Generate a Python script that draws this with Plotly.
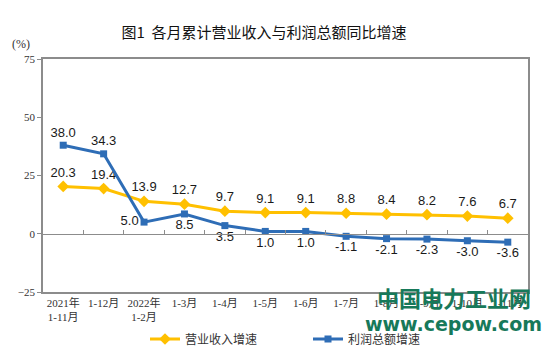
import plotly.graph_objects as go

categories = ["2021年<br>1-11月", "1-12月", "2022年<br>1-2月", "1-3月", "1-4月", "1-5月",
              "1-6月", "1-7月", "1-8月", "1-9月", "1-10月", "1-11月"]
revenue_growth = [20.3, 19.4, 13.9, 12.7, 9.7, 9.1, 9.1, 8.8, 8.4, 8.2, 7.6, 6.7]
profit_growth = [38.0, 34.3, 5.0, 8.5, 3.5, 1.0, 1.0, -1.1, -2.1, -2.3, -3.0, -3.6]
profit_label_pos = ["top center", "top center", "middle left"] + ["bottom center"] * 9

YELLOW = "#FFC000"
BLUE = "#2E6DB6"
AXIS = "#8c8c8c"
LABEL_FONT = dict(family="Arial, Liberation Sans", size=13, color="#1a1a1a")

fig = go.Figure()
fig.add_trace(go.Scatter(
    x=categories, y=revenue_growth, name="营业收入增速",
    mode="lines+markers+text",
    line=dict(color=YELLOW, width=3),
    marker=dict(symbol="diamond", size=9, color=YELLOW),
    text=[f"{v:.1f}" for v in revenue_growth], textposition="top center",
    textfont=LABEL_FONT,
))
fig.add_trace(go.Scatter(
    x=categories, y=profit_growth, name="利润总额增速",
    mode="lines+markers+text",
    line=dict(color=BLUE, width=3),
    marker=dict(symbol="square", size=7, color=BLUE),
    text=[f"{v:.1f}" for v in profit_growth], textposition=profit_label_pos,
    textfont=LABEL_FONT,
))
# invisible trace to carry the zero-line axis with boundary ticks
fig.add_trace(go.Scatter(
    x=categories, y=[0] * len(categories), xaxis="x2", mode="lines",
    line=dict(width=0), opacity=0, showlegend=False, hoverinfo="skip",
))

fig.update_layout(
    width=554, height=353,
    margin=dict(l=43, r=26, t=59, b=61),
    paper_bgcolor="white", plot_bgcolor="white",
    title=dict(text="图1  各月累计营业收入与利润总额同比增速",
               x=264 / 554, xanchor="center", xref="container",
               y=1 - 33 / 353, yanchor="middle", yref="container",
               font=dict(family="Noto Sans CJK SC", size=15, color="#111")),
    xaxis=dict(type="category", range=[-0.5, 11.5],
               showline=True, mirror=True, linecolor=AXIS, linewidth=1.5,
               ticks="", showgrid=False, automargin=False,
               tickfont=dict(family="Liberation Serif, Noto Sans CJK SC", size=11, color="#333")),
    xaxis2=dict(type="category", matches="x", overlaying="x", anchor="free", position=0.25,
                showline=True, linecolor=AXIS, linewidth=1.2,
                ticks="inside", ticklen=4, tickcolor=AXIS, tickson="boundaries",
                showticklabels=False, showgrid=False),
    yaxis=dict(range=[-25, 75], dtick=25, tick0=0,
               showline=True, mirror=True, linecolor=AXIS, linewidth=1.5,
               ticks="outside", ticklen=4, tickcolor=AXIS,
               showgrid=False, zeroline=False, automargin=False,
               tickfont=dict(family="Liberation Serif", size=11, color="#333")),
    legend=dict(orientation="h", xref="container", x=145 / 554, xanchor="left",
                yref="container", y=1 - 339 / 353, yanchor="middle",
                font=dict(family="Noto Sans CJK SC", size=12, color="#333"),
                itemwidth=30, tracegroupgap=0, entrywidthmode="pixels", entrywidth=118,
                bgcolor="rgba(0,0,0,0)"),
    showlegend=True,
)

fig.add_annotation(text="(%)", xref="paper", yref="paper", x=-0.045, y=1.065,
                   xanchor="center", yanchor="middle",
                   showarrow=False, font=dict(family="Liberation Serif", size=12, color="#333"))
fig.add_annotation(text="<b>中国电力工业网</b>", xref="paper", yref="paper",
                   x=0.847, y=-0.021, xanchor="center", yanchor="middle", showarrow=False,
                   font=dict(family="Noto Sans CJK SC", size=22, color="#17795A"))
fig.add_annotation(text="<b>www.cepow.com</b>", xref="paper", yref="paper",
                   x=0.847, y=-0.137, xanchor="center", yanchor="middle", showarrow=False,
                   font=dict(family="DejaVu Sans", size=19, color="#17795A"))

fig.write_html("out.html")
